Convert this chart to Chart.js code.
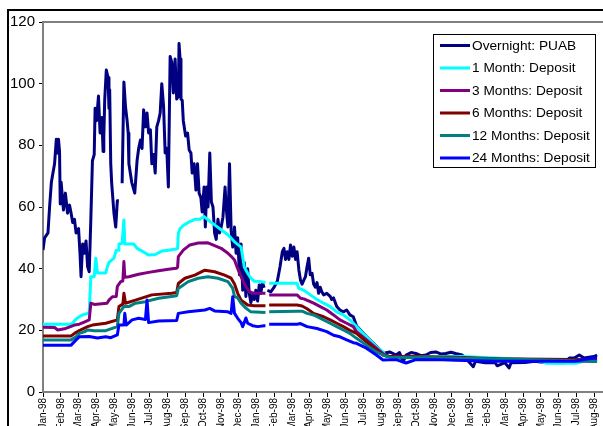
<!DOCTYPE html>
<html>
<head>
<meta charset="utf-8">
<script src="https://cdn.jsdelivr.net/npm/chart.js@4/dist/chart.umd.min.js"></script>
<style>
  html, body { margin: 0; padding: 0; background: #fff; overflow: hidden; width: 603px; height: 426px; }
  canvas { display: block; }
</style>
</head>
<body>
<canvas id="rates" width="625" height="440"></canvas>
<script>
// Month tick labels (one per month from the start of the series)
const monthLabels = [
  'Jan-98','Feb-98','Mar-98','Apr-98','May-98','Jun-98','Jul-98','Aug-98','Sep-98','Oct-98','Nov-98','Dec-98',
  'Jan-98','Feb-98','Mar-98','Apr-98','May-98','Jun-98','Jul-98','Aug-98','Sep-98','Oct-98','Nov-98','Dec-98',
  'Jan-98','Feb-98','Mar-98','Apr-98','May-98','Jun-98','Jul-98','Aug-98','Sep-98'
];

const seriesNames = [
  'Overnight: PUAB', '1 Month: Deposit', '3 Months: Deposit',
  '6 Months: Deposit', '12 Months: Deposit', '24 Months: Deposit'
];
const seriesColors = ['#000080', '#00FFFF', '#800080', '#800000', '#008080', '#0000FF'];

// [months since first tick, rate %]; null marks a missing day
const overnightPUAB = [[0.00,46],[0.09,50],[0.28,51.6],[0.37,60],[0.47,68],[0.65,74],[0.75,82],[0.82,77.5],[0.87,82],[0.93,78],[0.97,61],[1.02,68],[1.15,59],[1.26,64.5],[1.38,58],[1.49,60.6],[1.58,58],[1.67,55],[1.77,56],[1.86,51.6],[2.00,53],[2.08,45],[2.14,37.4],[2.23,48],[2.32,45],[2.42,49],[2.51,40.6],[2.60,39],[2.69,56],[2.78,75],[2.88,77],[2.93,92],[3.01,88],[3.12,96],[3.21,84],[3.31,89],[3.38,78],[3.42,82.6],[3.47,94.6],[3.56,104.4],[3.66,102],[3.71,92],[3.75,98],[3.81,74],[3.86,68],[3.99,58],[4.09,53.5],[4.18,62],[4.27,62],[4.36,null],[4.45,67.7],[4.55,100.5],[4.64,92.5],[4.73,88],[4.79,84],[4.83,74],[4.99,68],[5.16,64.5],[5.29,75],[5.38,79],[5.48,81.7],[5.57,79],[5.66,91.5],[5.76,86],[5.85,90.5],[5.94,84],[6.04,85],[6.12,74],[6.22,77],[6.31,71],[6.40,86],[6.50,88],[6.59,90.5],[6.68,100],[6.78,92.7],[6.87,77.5],[6.96,79],[7.05,66.5],[7.15,108.8],[7.24,107],[7.33,97],[7.43,108],[7.52,95],[7.61,96],[7.65,113],[7.71,108],[7.76,95],[7.83,94.6],[7.89,88],[8.02,83],[8.13,84],[8.22,78.5],[8.32,77.5],[8.39,71],[8.50,74],[8.60,65.5],[8.69,74],[8.78,64.5],[8.88,63],[8.95,58.4],[9.06,66.5],[9.13,53.5],[9.21,66.5],[9.28,60],[9.38,77.5],[9.47,61.6],[9.56,60],[9.65,51.6],[9.74,49.5],[9.84,56],[9.93,51.6],[10.02,53.5],[10.12,56.7],[10.24,66.5],[10.30,60],[10.40,53.5],[10.49,74],[10.58,52.5],[10.67,47],[10.77,53.5],[10.86,45],[10.95,50],[11.05,38],[11.14,48],[11.23,33],[11.32,42],[11.41,31],[11.51,40],[11.60,32],[11.69,29],[11.79,31.5],[11.88,30],[11.97,33],[12.07,29.5],[12.16,34.7],[12.25,32],[12.34,35.5],[12.44,33.8],[12.57,null],[12.62,33],[12.81,32.5],[13.00,34],[13.18,36],[13.33,40.6],[13.46,45.5],[13.55,46.6],[13.64,43],[13.74,45.5],[13.83,43],[13.92,47.7],[14.02,44],[14.11,47],[14.20,43],[14.29,45.5],[14.39,39.6],[14.48,36.3],[14.57,35],[14.67,36.3],[14.76,37.4],[14.85,40.6],[14.94,43.4],[15.03,38],[15.13,38.5],[15.22,35],[15.31,34],[15.41,35.5],[15.50,32],[15.59,34],[15.68,32.5],[15.78,31.5],[15.96,32],[16.15,31],[16.24,30],[16.34,30.5],[16.52,27.7],[16.70,26.6],[16.89,26],[17.08,26.6],[17.26,25],[17.45,24.4],[17.63,21.5],[18.19,18],[18.75,14.8],[19.12,12.5],[19.49,13],[19.86,12],[20.05,12.8],[20.25,9.8],[20.42,12],[20.70,12.8],[20.97,12.5],[21.25,11.8],[21.53,12],[21.80,12.8],[22.09,13],[22.40,12.3],[22.65,12.5],[22.95,12.9],[23.20,12.5],[23.57,12],[23.76,11],[24.20,8.2],[24.32,10],[24.87,9.5],[25.43,9.5],[25.54,8.5],[25.98,9.5],[26.21,7.8],[26.32,9.5],[27.10,9.6],[27.66,10],[28.21,9.6],[29.32,9.5],[29.60,11],[29.88,11],[30.16,12],[30.43,11],[30.99,11.5],[31.16,12]];

const deposit1M = [[0,22],[1.58,22],[1.67,22.4],[1.86,23.7],[2.04,24.4],[2.23,25],[2.51,25.5],[2.60,25.8],[2.69,37.4],[2.88,37.4],[2.97,43.4],[3.06,38.6],[3.53,38.6],[3.62,40.6],[3.71,42],[3.81,42.5],[3.99,43.4],[4.12,46],[4.23,46],[4.27,48],[4.45,48.2],[4.55,55.8],[4.60,48],[5.11,48],[5.29,46.6],[5.57,45.7],[5.94,44.4],[6.31,44.6],[6.68,45.7],[7.05,46],[7.50,46.4],[7.57,46.6],[7.61,51.5],[7.71,53],[7.89,54],[8.17,55],[8.54,56],[8.82,56],[9.06,56.9],[9.28,55.8],[9.65,54.2],[10.02,52.6],[10.40,51],[10.77,48.7],[11.14,47],[11.23,43.9],[11.32,40.5],[11.51,38.5],[11.69,36.9],[11.88,35.9],[12.25,35.8],[12.51,35.5],[12.57,null],[12.72,35.3],[14.29,35.3],[14.39,33.6],[14.67,33],[15.03,31.5],[15.41,30],[15.78,28.8],[16.15,27.7],[16.52,26],[16.89,25],[17.26,23.4],[17.63,21.2],[18.19,17.9],[18.75,14.7],[19.12,13],[19.30,11.5],[23.54,11.5],[25.43,11],[27.66,10.5],[28.33,9.3],[29.99,9.3],[30.43,10],[31.16,10]];

const deposit3M = [[0,21],[0.65,20.9],[0.83,20.1],[1.21,20.5],[1.77,21.7],[2.04,22],[2.32,22.7],[2.60,23.4],[2.69,28.8],[2.88,28.4],[3.60,28.8],[3.71,29.8],[3.90,30.9],[4.12,31],[4.18,34.2],[4.27,35],[4.37,35.8],[4.49,36],[4.55,42.3],[4.60,37.2],[4.83,37.4],[5.38,38.2],[5.94,38.8],[6.50,39.3],[7.05,39.8],[7.50,40.1],[7.57,40.5],[7.61,43.9],[7.89,46],[8.26,47.7],[8.73,48.3],[9.28,48.4],[9.65,47.5],[10.02,46.6],[10.40,45],[10.58,44],[10.77,42.8],[10.95,40],[11.23,36.3],[11.41,34.2],[11.60,32.5],[11.88,32],[12.51,32],[12.57,null],[12.72,31.5],[14.29,31.5],[14.48,30.4],[14.67,30.2],[15.22,28.8],[15.59,27.7],[15.96,26.6],[16.34,25],[16.70,23.4],[17.08,22.3],[17.45,21.2],[17.63,19.6],[18.19,16.9],[18.75,14.2],[19.12,12.4],[19.49,11.5],[20.03,11.5],[24.87,10.8],[25.43,10.8],[26.54,10.3],[31.16,10]];

const deposit6M = [[0,18.2],[1.58,18.2],[1.77,19],[2.04,19.9],[2.51,21.2],[2.78,21.7],[3.53,22.3],[4.18,23.4],[4.27,27.7],[4.49,28.5],[4.55,32],[4.64,28.8],[5.20,29.8],[6.12,31.5],[7.24,32],[7.52,32.3],[7.61,35.2],[7.98,36.9],[8.54,37.9],[9.10,39.5],[9.65,39],[10.21,37.9],[10.58,36.9],[10.77,35],[10.95,32],[11.14,29.8],[11.51,28.2],[11.88,28],[12.51,28],[12.57,null],[12.72,28.2],[14.29,28.2],[14.57,27.9],[14.85,27],[15.22,25.5],[15.78,24.4],[16.15,23.4],[16.52,22.3],[16.89,21.2],[17.26,20],[17.63,19],[18.19,16.3],[18.75,13.6],[19.12,12],[19.49,11.5],[23.20,11.3],[25.43,10.8],[31.16,10.5]];

const deposit12M = [[0,16.9],[1.58,16.9],[1.86,17.9],[2.04,19],[2.32,19.5],[2.51,20.1],[2.88,19.9],[3.53,19.9],[4.18,21.2],[4.27,25.5],[4.55,27.7],[4.83,27.7],[5.20,28.8],[5.76,29.3],[6.50,30.4],[7.43,31.1],[7.52,31.3],[7.61,33.6],[8.17,35.8],[8.73,36.9],[9.28,37.4],[9.84,36.9],[10.40,35.8],[10.67,33.6],[10.77,31],[10.95,30.5],[11.14,28.8],[11.41,27.2],[11.69,26],[12.51,25.8],[12.57,null],[12.72,26],[14.29,26.2],[14.57,26.2],[14.85,25.5],[15.22,25],[15.78,23.4],[16.15,22.3],[16.52,21.2],[16.89,20.1],[17.26,19],[17.63,17.4],[18.19,15.2],[18.75,13],[19.12,12],[19.49,11.3],[23.20,11],[27.66,10.5],[31.16,10]];

const deposit24M = [[0,15.2],[1.58,15.2],[1.86,16.9],[2.04,17.9],[2.60,18],[3.06,17.5],[3.53,17.9],[3.81,17.6],[4.18,18.5],[4.27,21.7],[4.55,21.7],[4.60,25.5],[4.68,21.7],[5.01,23.4],[5.38,23.9],[5.76,23.5],[5.85,29.8],[5.94,22.5],[6.50,23],[7.52,23.2],[7.61,25.5],[8.17,26],[9.10,26.6],[9.38,27.1],[9.65,26.3],[10.40,26],[10.58,25.5],[10.67,30.9],[10.77,25.5],[10.95,23.9],[11.14,22.5],[11.23,21.2],[11.41,24],[11.51,22.3],[11.79,21.5],[12.07,21.2],[12.44,21.5],[12.51,21.5],[12.57,null],[12.72,22],[14.29,22],[14.48,22.2],[14.85,21.2],[15.41,20.6],[15.96,19.6],[16.34,18.4],[16.70,17.9],[17.08,16.9],[17.45,16],[17.63,15.8],[18.19,14.2],[18.75,12],[19.12,10.4],[19.86,10.5],[20.42,9.4],[20.97,10.5],[22.09,10.5],[23.20,10.3],[25.43,10],[29.88,10],[30.43,10.5],[30.99,11],[31.16,11]];

const yTicks = { min: 0, max: 120, step: 20 };

const allSeries = [overnightPUAB, deposit1M, deposit3M, deposit6M, deposit12M, deposit24M];

const FONT = "'Liberation Sans', Arial, Helvetica, sans-serif";
Chart.defaults.font.family = FONT;
Chart.defaults.color = '#000';

// Outer frame, plot-area border
const framePlugin = {
  id: 'frame',
  beforeDraw(chart) {
    const ctx = chart.ctx;
    ctx.save();
    ctx.fillStyle = '#fff';
    ctx.fillRect(0, 0, chart.width, chart.height);
    ctx.fillStyle = '#000';
    ctx.fillRect(7, 9, chart.width, 2);
    ctx.fillRect(7, 9, 2, chart.height);
    ctx.restore();
  },
  beforeDatasetsDraw(chart) {
    const { ctx, chartArea: a } = chart;
    ctx.save();
    ctx.strokeStyle = '#808080';
    ctx.lineWidth = 2;
    ctx.strokeRect(a.left, a.top, a.right - a.left, a.bottom - a.top);
    ctx.restore();
  }
};

// Boxed legend inside the plot, upper right
const boxLegend = {
  id: 'boxLegend',
  afterDraw(chart) {
    const ctx = chart.ctx;
    const bx = 433.5, by = 34.5, bw = 162, bh = 133;
    ctx.save();
    ctx.fillStyle = '#fff';
    ctx.fillRect(bx, by, bw, bh);
    ctx.strokeStyle = '#000';
    ctx.lineWidth = 1;
    ctx.strokeRect(bx, by, bw, bh);
    ctx.font = '13.7px ' + FONT;
    ctx.textBaseline = 'middle';
    ctx.textAlign = 'left';
    chart.data.datasets.forEach((ds, i) => {
      const y = 45.5 + i * 22.5;
      ctx.strokeStyle = ds.borderColor;
      ctx.lineWidth = 3;
      ctx.beginPath();
      ctx.moveTo(440, y);
      ctx.lineTo(470, y);
      ctx.stroke();
      ctx.fillStyle = '#000';
      ctx.fillText(ds.label, 472, y + 0.5);
    });
    ctx.restore();
  }
};

new Chart(document.getElementById('rates'), {
  type: 'line',
  data: {
    datasets: allSeries.map((s, i) => ({
      label: seriesNames[i],
      data: s.map(([m, v]) => ({ x: m, y: v })),
      borderColor: seriesColors[i],
      backgroundColor: seriesColors[i],
      borderWidth: 3,
      pointRadius: 0,
      tension: 0,
      spanGaps: false,
      borderJoinStyle: 'round',
      order: allSeries.length - i
    }))
  },
  options: {
    responsive: false,
    animation: false,
    devicePixelRatio: 1,
    layout: { padding: { top: 22, right: 7, left: 0, bottom: 0 } },
    plugins: { legend: { display: false }, tooltip: { enabled: false } },
    scales: {
      x: {
        type: 'linear',
        min: 0,
        max: 32,
        afterFit(scale) { scale.height = 48; },
        border: { display: false },
        grid: { drawOnChartArea: false, drawTicks: true, tickLength: 5, color: '#000' },
        ticks: {
          stepSize: 1,
          maxTicksLimit: 40,
          autoSkip: false,
          minRotation: 90,
          maxRotation: 90,
          padding: 1,
          font: { size: 10 },
          callback: (v) => Number.isInteger(v) ? monthLabels[v] : ''
        }
      },
      y: {
        min: yTicks.min,
        max: yTicks.max,
        afterFit(scale) { scale.width = 43; },
        border: { display: false },
        grid: { drawOnChartArea: false, drawTicks: true, tickLength: 4, color: '#000' },
        ticks: { stepSize: yTicks.step, padding: 4, font: { size: 15 } }
      }
    }
  },
  plugins: [framePlugin, boxLegend]
});
</script>
</body>
</html>
